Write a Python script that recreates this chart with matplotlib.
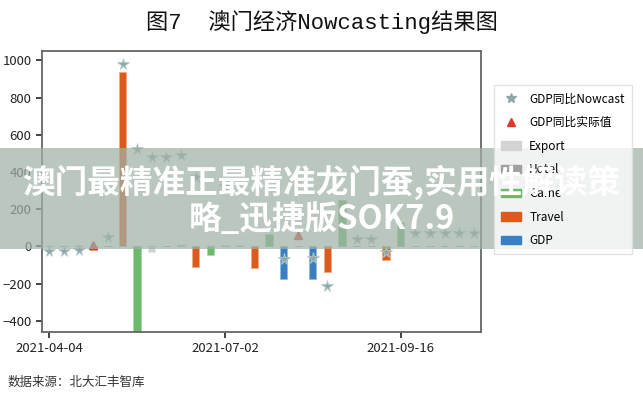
import numpy as np
import matplotlib
matplotlib.use('Agg')
import matplotlib.pyplot as plt
from matplotlib.patches import Patch, Rectangle
from matplotlib.lines import Line2D

plt.rcParams['font.family'] = ['Noto Sans CJK SC', 'DejaVu Sans']

nan = np.nan
# 周度序列, 共30期, 只标出三个日期
tick_labels = ['2021-04-04', '2021-07-02', '2021-09-16']

nowcast = [-25, -25, -20, nan, 48, 980, 525, 483, 483, 493,
           375, nan, 327, nan, nan, nan, -70, nan, -60, -215,
           nan, 38, 38, -32, nan, 70, 70, 70, 70, 70]
actual = [nan, nan, nan, 5, nan, nan, nan, nan, nan, nan,
          nan, nan, nan, nan, nan, nan, nan, 60, nan, nan,
          nan, nan, nan, nan, nan, nan, nan, nan, nan, nan]
export = [0, 0, 8, 0, 0, 0, 0, -30, 0, 12,
          0, 0, 8, 8, 0, 0, 0, 0, 0, 0,
          0, 0, 0, 0, 0, 0, 0, 0, 0, 0]
game = [0, 0, 0, 0, 0, 0, -500, 0, 0, 0,
        0, -48, 0, 0, 0, 65, 0, 0, 0, 0,
        250, 0, 0, 0, 130, 0, 0, 0, 0, 0]
travel = [0, 0, 0, -20, 0, 935, 0, 0, 0, 0,
          -113, 0, 0, 0, -118, 0, 0, 0, 0, -140,
          0, 0, 0, -75, 0, 0, 0, 0, 0, 0]
gdp = [0, 0, 0, 0, 0, 0, 0, 0, 0, 0,
       0, 0, 0, 0, 0, 0, -177, 0, -177, 0,
       0, 0, 0, 0, 0, 0, 0, 0, 0, 0]

c_star = '#8fa9ab'
c_tri = '#d93a2b'
c_export = '#d3d3d3'
c_other = '#a0a0a0'
c_game = '#6cbb6c'
c_travel = '#dc5a1e'
c_gdp = '#3a7fc0'

fig = plt.figure(figsize=(6.43, 3.99), dpi=100)
ax = fig.add_axes([0.0653, 0.168, 0.683, 0.704])

x = np.arange(len(nowcast))
w = 0.5
ax.bar(x, export, w, color=c_export, edgecolor='#e6e6e6', linewidth=0.6)
ax.bar(x, game, w, color=c_game, edgecolor='#a8d8a8', linewidth=0.6)
ax.bar(x, travel, w, color=c_travel, edgecolor='#f0a880', linewidth=0.6)
ax.bar(x, gdp, w, color=c_gdp, edgecolor='#90bce0', linewidth=0.6)
ax.plot(x, nowcast, linestyle='none', marker='*', markersize=8.5,
        color=c_star, markeredgecolor='#b8cccc', markeredgewidth=0.6)
ax.plot(x, actual, linestyle='none', marker='^', markersize=6, color=c_tri)

ax.set_xlim(-0.5, len(nowcast) - 0.5)
ax.set_ylim(-460, 1050)
ax.set_yticks([-400, -200, 0, 200, 400, 600, 800, 1000])
ax.set_xticks(range(0, len(nowcast), 12))
ax.set_xticklabels(tick_labels)
ax.tick_params(labelsize=9.5, colors='#222222', length=4, width=1.2)
for s in ax.spines.values():
    s.set_color('#666666')
    s.set_linewidth(1.3)

handles = [
    Line2D([], [], linestyle='none', marker='*', markersize=7, color=c_star),
    Line2D([], [], linestyle='none', marker='^', markersize=6, color=c_tri),
    Patch(color=c_export), Patch(color=c_other), Patch(color=c_game),
    Patch(color=c_travel), Patch(color=c_gdp),
]
labels = ['GDP同比Nowcast', 'GDP同比实际值', 'Export', 'Hotel',
          'Game', 'Travel', 'GDP']
fig.legend(handles, labels, loc='upper left', bbox_to_anchor=(0.768, 0.786),
           fontsize=8.5, frameon=True, edgecolor='#dddddd', fancybox=False,
           handlelength=1.7, handletextpad=0.7, labelspacing=0.9, borderpad=0.6,
           borderaxespad=0)

fig.text(0.5, 0.945, '图7  澳门经济Nowcasting结果图', ha='center', va='center',
         fontsize=16, family=['Liberation Mono', 'Noto Sans CJK SC'], color='#111111')
fig.text(0.012, 0.042, '数据来源：北大汇丰智库', ha='left', va='center',
         fontsize=9, color='#333333')

# 半透明横幅
fig.patches.append(Rectangle((0, 0.376), 1, 0.253, transform=fig.transFigure,
                             facecolor='#a0b2a7', alpha=0.72, edgecolor='none', zorder=5))
fig.text(0.5, 0.544, '澳门最精准正最精准龙门蚕,实用性解读策', ha='center', va='center',
         fontsize=23.5, fontweight='bold', color='white', zorder=6)
fig.text(0.5, 0.449, '略_迅捷版SOK7.9', ha='center', va='center',
         fontsize=23.5, fontweight='bold', color='white', zorder=6)

fig.savefig('out.png', dpi=100)
